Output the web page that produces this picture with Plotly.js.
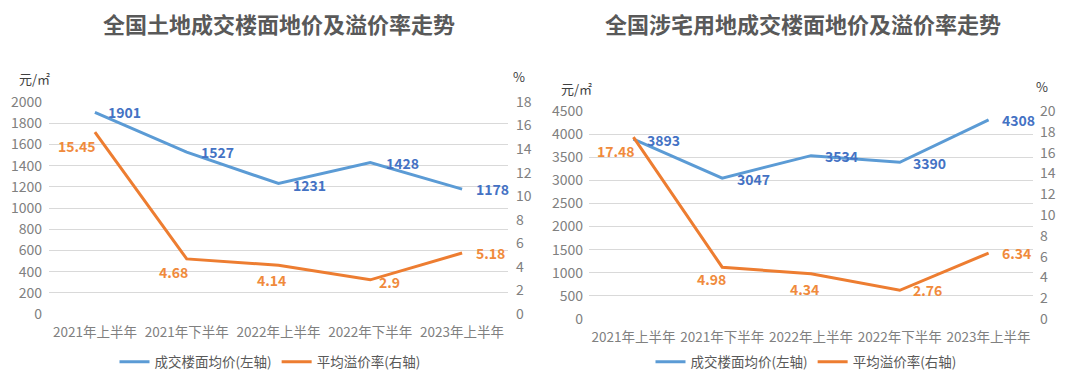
<!DOCTYPE html>
<html><head><meta charset="utf-8">
<script src="https://cdn.plot.ly/plotly-3.0.1.min.js"></script>
<style>html,body{margin:0;padding:0;background:#fff}#c{width:1080px;height:386px}</style>
</head><body><div id="c"></div>
<script>
const categories = ["2021年上半年","2021年下半年","2022年上半年","2022年下半年","2023年上半年"];
const landPrice = [1901, 1527, 1231, 1428, 1178];
const landPremium = [15.45, 4.68, 4.14, 2.9, 5.18];
const resPrice = [3893, 3047, 3534, 3390, 4308];
const resPremium = [17.48, 4.98, 4.34, 2.76, 6.34];
const titles = ["全国土地成交楼面地价及溢价率走势", "全国涉宅用地成交楼面地价及溢价率走势"];
const seriesNames = ["成交楼面均价(左轴)", "平均溢价率(右轴)"];

const FONT = '"Noto Sans CJK SC", "Noto Sans", sans-serif';
const BLUE = '#5B9BD5', ORANGE = '#ED7D31', BLUE_T = '#4472C4', ORANGE_T = '#F08A3C';
const YTICK = {family: FONT, size: 14, color: '#808080'};
const XTICK = {family: FONT, size: 13.5, color: '#808080'};

const traces = [
  {x: categories, y: landPrice, name: seriesNames[0], xaxis: 'x', yaxis: 'y', type: 'scatter', mode: 'lines', line: {color: BLUE, width: 3}, legend: 'legend'},
  {x: categories, y: landPremium, name: seriesNames[1], xaxis: 'x', yaxis: 'y2', type: 'scatter', mode: 'lines', line: {color: ORANGE, width: 3}, legend: 'legend'},
  {x: categories, y: resPrice, name: seriesNames[0], xaxis: 'x2', yaxis: 'y3', type: 'scatter', mode: 'lines', line: {color: BLUE, width: 3}, legend: 'legend2'},
  {x: categories, y: resPremium, name: seriesNames[1], xaxis: 'x2', yaxis: 'y4', type: 'scatter', mode: 'lines', line: {color: ORANGE, width: 3}, legend: 'legend2'}
];

const ann = [];
function lbl(xr, yr, vals, color, offsets) {
  vals.forEach((v, i) => {
    ann.push({xref: xr, yref: yr, x: categories[i], y: v, text: String(v), showarrow: false,
      xshift: offsets[i][0], yshift: -offsets[i][1], font: {family: FONT, size: 14, color: color, weight: 'bold'}});
  });
}
lbl('x', 'y', landPrice, BLUE_T, [[30,0],[31,0],[31,1],[32,0],[30,0]]);
lbl('x', 'y2', landPremium, ORANGE_T, [[-18,14],[-13,13],[-7,15],[19,2],[28,0]]);
lbl('x2', 'y3', resPrice, BLUE_T, [[30,1],[31,1],[30,0],[30,1],[30,0]]);
lbl('x2', 'y4', resPremium, ORANGE_T, [[-17,14],[-11,12],[-7,15],[28,0],[28,0]]);

function txt(x, y, t, size, color, bold) {
  ann.push({xref: 'paper', yref: 'paper', x: x / 1080, y: 1 - y / 386, text: t, showarrow: false,
    xanchor: 'center', yanchor: 'middle', font: {family: FONT, size: size, color: color, weight: bold ? 'bold' : 'normal'}});
}
txt(279, 23, titles[0], 22, '#595959', true);
txt(803, 23, titles[1], 22, '#595959', true);
txt(34, 78, '元/㎡', 13, '#404040', false);
txt(519, 76, '%', 13, '#404040', false);
txt(576, 89, '元/㎡', 13, '#404040', false);
txt(1042, 86, '%', 13, '#404040', false);

function yax(range, dtick, dom, side, overlay, anchor, standoff) {
  const a = {range: range, dtick: dtick, domain: dom, side: side, tickfont: YTICK, showline: false, zeroline: false,
    ticks: '', anchor: anchor, fixedrange: true, ticklabelstandoff: standoff};
  if (overlay) { a.overlaying = overlay; a.showgrid = false; }
  else { a.showgrid = true; a.gridcolor = '#d9d9d9'; a.gridwidth = 1; }
  return a;
}
const xbase = {type: 'category', range: [-0.5, 4.5], tickfont: XTICK, showline: false, showgrid: false, zeroline: false, ticks: '', ticklabelstandoff: 8};

const L = [1 - 314/386, 1 - 102/386];
const R = [1 - 319/386, 1 - 111/386];
const layout = {
  width: 1080, height: 386, margin: {l: 0, r: 0, t: 0, b: 0},
  paper_bgcolor: '#fff', plot_bgcolor: 'rgba(0,0,0,0)',
  font: {family: FONT, color: '#595959'},
  xaxis: Object.assign({}, xbase, {domain: [49/1080, 508/1080], anchor: 'y'}),
  xaxis2: Object.assign({}, xbase, {domain: [589/1080, 1033/1080], anchor: 'y3'}),
  yaxis: yax([0, 2000], 200, L, 'left', null, 'x', 6),
  yaxis2: yax([0, 18], 2, L, 'right', 'y', 'x', 7),
  yaxis3: yax([0, 4500], 500, R, 'left', null, 'x2', 5),
  yaxis4: yax([0, 20], 2, R, 'right', 'y3', 'x2', 6),
  legend: {orientation: 'h', x: 270/1080, xanchor: 'center', y: 1 - 362/386, yanchor: 'middle', font: {family: FONT, size: 13.5, color: '#595959'}, bgcolor: 'rgba(0,0,0,0)'},
  legend2: {orientation: 'h', x: 806/1080, xanchor: 'center', y: 1 - 362/386, yanchor: 'middle', font: {family: FONT, size: 13.5, color: '#595959'}, bgcolor: 'rgba(0,0,0,0)'},
  annotations: ann,
  showlegend: true
};
Plotly.newPlot('c', traces, layout, {displayModeBar: false, staticPlot: true});
</script></body></html>
